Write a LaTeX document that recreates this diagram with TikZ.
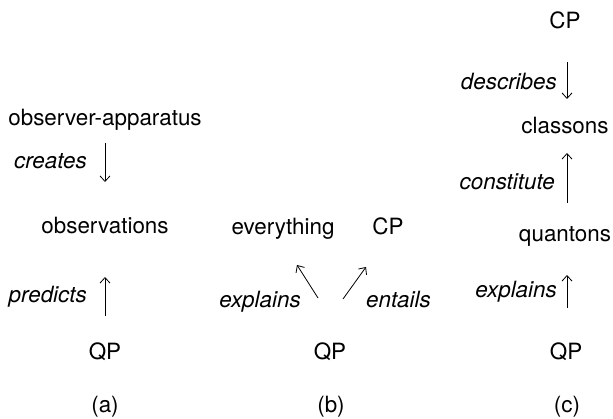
\documentclass[tikz,border=0pt]{standalone}
\usepackage{fontspec}
\setmainfont{TeX Gyre Heros}
\usetikzlibrary{arrows.meta}
\begin{document}
\begin{tikzpicture}[x=1pt,y=-1pt,
  txt/.style={inner sep=0pt,font=\fontsize{22.4}{27}\selectfont},
  lbl/.style={txt,font=\fontsize{22.4}{27}\selectfont\itshape},
  arr/.style={line width=0.8pt,-{Straight Barb[length=5.5pt,width=10pt,line width=0.8pt]}}]
\useasboundingbox (0,0) rectangle (613,419);
% (a)
\node[txt,anchor=base] (oa) at (105,126) {observer-apparatus};
\node[lbl,anchor=base east] (creates) at (87,169) {creates};
\node[txt,anchor=base] (obs) at (105,234) {observations};
\node[lbl,anchor=base east] (predicts) at (87,303) {predicts};
\node[txt,anchor=base] (qpa) at (105,360) {QP};
\node[txt,anchor=base] (la) at (105,413) {(a)};
\coordinate (a1s) at (105,143); \coordinate (a1e) at (105,182);
\coordinate (a2s) at (105,316); \coordinate (a2e) at (105,277);
\draw[arr] (a1s) -- (a1e);
\draw[arr] (a2s) -- (a2e);
% (b)
\node[txt,anchor=base] (every) at (283,235) {everything};
\node[txt,anchor=base] (cpb) at (388,235) {CP};
\node[lbl,anchor=base] (explb) at (260,308) {explains};
\node[lbl,anchor=base west] (entails) at (366,308) {entails};
\node[txt,anchor=base] (qpb) at (330,360) {QP};
\node[txt,anchor=base] (lb) at (331,413) {(b)};
\coordinate (b1s) at (318,298); \coordinate (b1e) at (297,265);
\coordinate (b2s) at (343,299); \coordinate (b2e) at (366,267);
\draw[arr] (b1s) -- (b1e);
\draw[arr] (b2s) -- (b2e);
% (c)
\node[txt,anchor=base] (cpc) at (565,29) {CP};
\node[lbl,anchor=base east] (desc) at (557,90) {describes};
\node[txt,anchor=base] (class) at (565,134) {classons};
\node[lbl,anchor=base east] (const) at (555,190) {constitute};
\node[txt,anchor=base] (quant) at (565,242) {quantons};
\node[lbl,anchor=base east] (explc) at (557,298) {explains};
\node[txt,anchor=base] (qpc) at (566,360) {QP};
\node[txt,anchor=base] (lc) at (567,413) {(c)};
\coordinate (c1s) at (567,62); \coordinate (c1e) at (567,99);
\coordinate (c2s) at (567,203); \coordinate (c2e) at (567,153);
\coordinate (c3s) at (567,308); \coordinate (c3e) at (567,275);
\draw[arr] (c1s) -- (c1e);
\draw[arr] (c2s) -- (c2e);
\draw[arr] (c3s) -- (c3e);
\end{tikzpicture}
\end{document}
